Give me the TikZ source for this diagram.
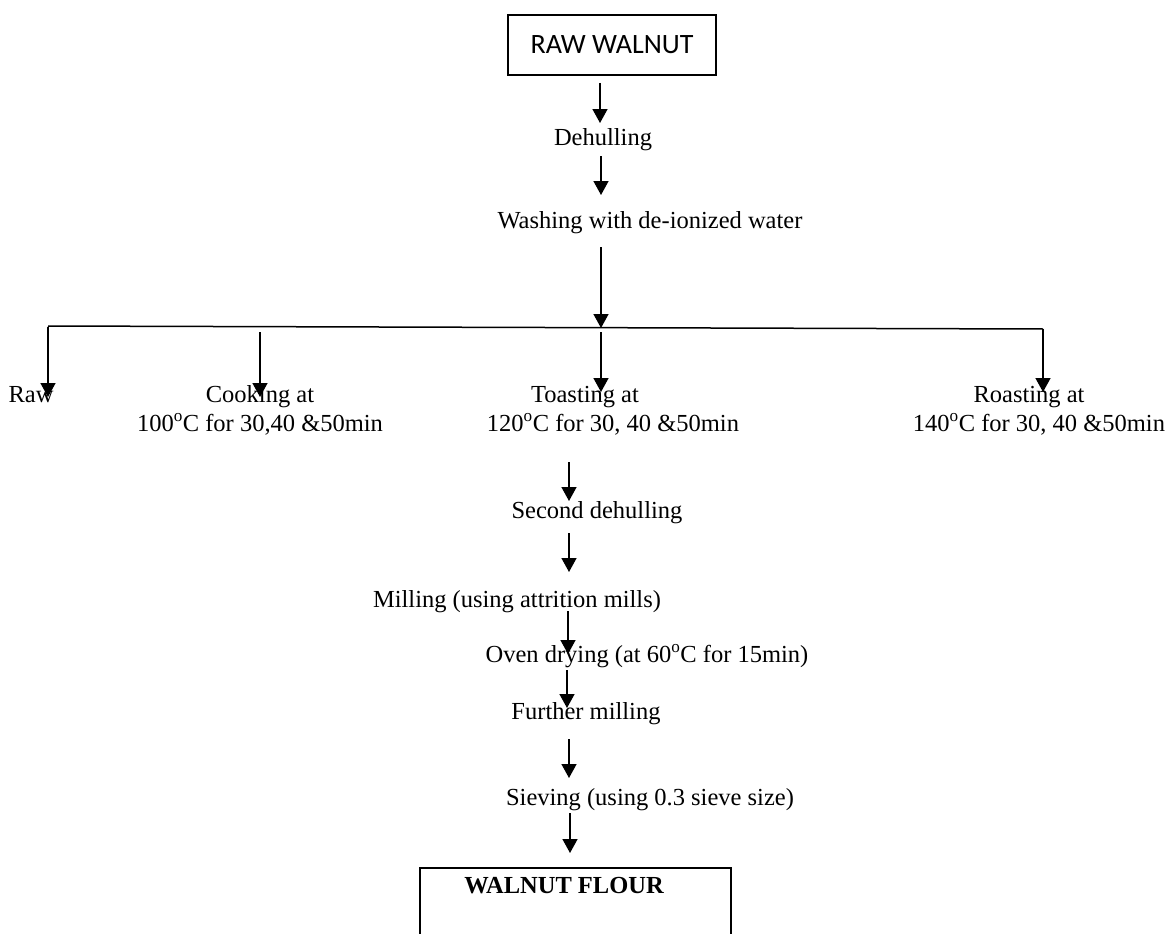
\documentclass[tikz,border=0pt]{standalone}
\usepackage{fontspec}
\setmainfont{Liberation Serif}
\newfontfamily\boxfont{Carlito}
\usetikzlibrary{arrows.meta}
\tikzset{
  flow/.style={line width=1.5pt,-{Triangle[width=15pt,length=14pt]}},
  lbl/.style={anchor=base,inner sep=0pt,font=\fontsize{24.5}{29}\selectfont,align=center},
  plain/.style={line width=1.5pt}
}
\begin{document}
\begin{tikzpicture}[x=1pt,y=-1pt]
\useasboundingbox (0,0) rectangle (1168,934);
% top box
\node[draw,line width=1.5pt,minimum width=208pt,minimum height=60pt,inner sep=0pt,font=\boxfont\fontsize{28}{32}\selectfont] (raw) at (612,45) {RAW WALNUT};
% labels
\node[lbl] (dehull) at (603,145) {Dehulling};
\node[lbl] (wash) at (650,228) {Washing with de-ionized water};
\node[lbl] (rawl) at (31,402) {Raw};
\node[lbl] (cook) at (260,431) {Cooking at\\100\textsuperscript{o}C for 30,40 \&50min};
\node[lbl] (toast) at (613,431) {Toasting at\hspace*{56pt}\\120\textsuperscript{o}C for 30, 40 \&50min};
\node[lbl] (roast) at (1039,431) {Roasting at\hspace*{20pt}\\140\textsuperscript{o}C for 30, 40 \&50min};
\node[lbl] (second) at (597,518) {Second dehulling};
\node[lbl] (mill) at (517,607) {Milling (using attrition mills)};
\node[lbl] (oven) at (647,662) {Oven drying (at 60\textsuperscript{o}C for 15min)};
\node[lbl] (further) at (586,719) {Further milling};
\node[lbl] (sieve) at (650,805) {Sieving (using 0.3 sieve size)};
\node[draw,line width=1.5pt,anchor=north west,minimum width=311pt,minimum height=120pt,inner sep=0pt] (flourbox) at (419,867) {};
\node[lbl,font=\fontsize{24.5}{29}\selectfont\bfseries] (flour) at (564,893) {WALNUT FLOUR};
% connector end points
\coordinate (a1s) at (600,83);  \coordinate (a1e) at (600,123);
\coordinate (a2s) at (601,156); \coordinate (a2e) at (601,195);
\coordinate (a3s) at (601,247); \coordinate (a3e) at (601,328);
\coordinate (hl) at (48,326);   \coordinate (hr) at (1043,329);
\coordinate (b1s) at (48,327);  \coordinate (b1e) at (48,397);
\coordinate (b2s) at (260,332); \coordinate (b2e) at (260,397);
\coordinate (b3s) at (601,332); \coordinate (b3e) at (601,392);
\coordinate (b4s) at (1043,329);\coordinate (b4e) at (1043,392);
\coordinate (c1s) at (569,462); \coordinate (c1e) at (569,501);
\coordinate (c2s) at (569,533); \coordinate (c2e) at (569,572);
\coordinate (c3s) at (568,611); \coordinate (c3e) at (568,654);
\coordinate (c4s) at (567,670); \coordinate (c4e) at (567,708);
\coordinate (c5s) at (569,739); \coordinate (c5e) at (569,778);
\coordinate (c6s) at (570,813); \coordinate (c6e) at (570,853);
% connectors
\draw[flow] (a1s) -- (a1e);
\draw[flow] (a2s) -- (a2e);
\draw[flow] (a3s) -- (a3e);
\draw[plain] (hl) -- (hr);
\draw[flow] (b1s) -- (b1e);
\draw[flow] (b2s) -- (b2e);
\draw[flow] (b3s) -- (b3e);
\draw[flow] (b4s) -- (b4e);
\draw[flow] (c1s) -- (c1e);
\draw[flow] (c2s) -- (c2e);
\draw[flow] (c3s) -- (c3e);
\draw[flow] (c4s) -- (c4e);
\draw[flow] (c5s) -- (c5e);
\draw[flow] (c6s) -- (c6e);
\end{tikzpicture}
\end{document}
